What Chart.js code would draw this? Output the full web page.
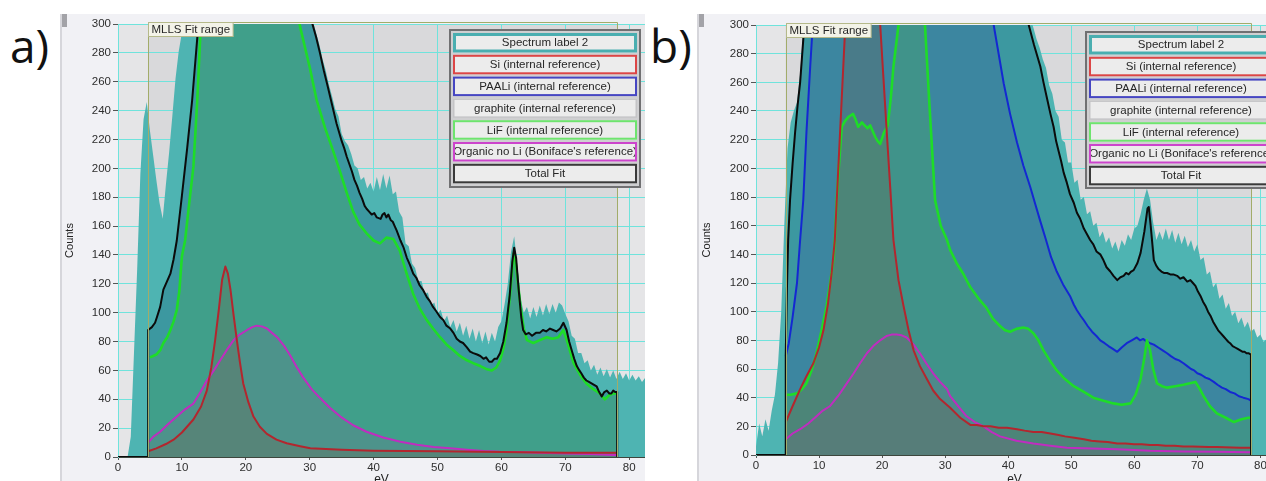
<!DOCTYPE html>
<html>
<head>
<meta charset="utf-8">
<script src="https://cdn.jsdelivr.net/npm/chart.js@4.4.1/dist/chart.umd.min.js"></script>
<style>
  html, body { margin: 0; padding: 0; background: #fff; width: 1266px; height: 481px; overflow: hidden; }
  .tag { position: absolute; font-family: "Open Sans", sans-serif; font-size: 46px; color: #111; line-height: 1; }
  .frame { position: absolute; top: 14px; height: 467px; overflow: hidden; background: #f1f1f5; }
  .edge { position: absolute; left: 0; top: 0; width: 2px; height: 100%; background: #d6d6db; }
  .thumb { position: absolute; left: 2px; top: 0; width: 5px; height: 13px; background: #a3a3a8; }
  canvas { position: absolute; left: 0; top: 0; }
</style>
</head>
<body>
<div class="tag" style="left:10px;top:22px">a)</div>
<div class="frame" style="left:60px;width:585px"><div class="edge"></div><div class="thumb"></div><canvas id="chartA" width="585" height="490"></canvas></div>
<div class="tag" style="left:650px;top:22px">b)</div>
<div class="frame" style="left:697px;width:569px"><div class="edge"></div><div class="thumb"></div><canvas id="chartB" width="576" height="490"></canvas></div>

<script>
// legend entries shared by both fits
const legendLabels = ['Spectrum label 2', 'Si (internal reference)', 'PAALi (internal reference)',
  'graphite (internal reference)', 'LiF (internal reference)', "Organic no Li (Boniface's reference)", 'Total Fit'];

const energyTicks = [0, 10, 20, 30, 40, 50, 60, 70, 80];
const countTicks = [0, 20, 40, 60, 80, 100, 120, 140, 160, 180, 200, 220, 240, 260, 280, 300];

// measured spectra, 0.5 eV per channel starting at 0 eV
const specStep = 0.5;
const aSpectrum = [
  0, 0, 0, 0, 14, 72, 130, 196, 234, 246,
  226, 209, 192, 176, 165, 189, 211, 236, 262, 281,
  294, 306, 322, 340, 362, 386, 410, 436, 460, 484,
  506, 526, 544, 560, 572, 582, 588, 592, 594, 592,
  588, 580, 570, 556, 540, 522, 502, 482, 462, 442,
  422, 404, 386, 370, 356, 344, 334, 324, 316, 310,
  306, 302, 294, 286, 276, 268, 258, 250, 241, 236,
  224, 219, 216, 210, 202, 200, 192, 194, 186, 190,
  184, 194, 185, 196, 186, 195, 182, 184, 170, 166,
  148, 146, 134, 131, 122, 122, 113, 114, 105, 107,
  99, 102, 94, 98, 90, 95, 87, 93, 84, 91,
  82, 89, 80, 88, 79, 87, 78, 86, 80, 90,
  94, 106, 120, 142, 153, 132, 110, 100, 104, 96,
  104, 97, 105, 98, 106, 99, 106, 100, 107, 105,
  99, 94, 84, 82, 72, 72, 65, 67, 60, 64,
  57, 62, 56, 61, 55, 60, 54, 59, 54, 58,
  53, 57, 53, 56, 52, 55
];
const bSpectrum = [
  6, 22, 13, 25, 17, 31, 42, 64, 100, 162,
  214, 232, 240, 246, 266, 298, 330, 368, 405, 440,
  476, 510, 545, 578, 610, 640, 668, 694, 718, 740,
  758, 774, 786, 796, 804, 810, 814, 815, 814, 810,
  804, 796, 786, 774, 760, 745, 728, 710, 692, 672,
  652, 632, 612, 592, 572, 553, 534, 520, 506, 493,
  480, 468, 456, 445, 434, 423, 413, 403, 394, 385,
  377, 369, 362, 355, 349, 343, 338, 333, 329, 325,
  322, 319, 316, 314, 312, 310, 308, 305, 298, 290,
  284, 276, 270, 258, 252, 240, 236, 220, 218, 204,
  204, 190, 192, 178, 180, 168, 170, 160, 162, 152,
  156, 148, 152, 144, 149, 142, 150, 146, 154, 150,
  158, 160, 168, 178, 186, 178, 162, 150, 156, 150,
  158, 150, 157, 148, 155, 147, 153, 145, 150, 142,
  147, 136, 138, 126, 128, 117, 120, 109, 112, 102,
  106, 97, 100, 92, 96, 89, 93, 86, 88, 82,
  84, 79, 81, 76, 78
];

// MLLS fit window [eV]
const aFitRange = [4.72, 78.1];
const bFitRange = [4.7, 78.5];

// fitted components, [eV, counts]
const aTotalFit = [[0,0],[4.7,0],[4.72,88],[5.3,90],[5.8,93],[6.1,97],[6.6,104],[7.1,116],[7.6,121],[8.2,127],[8.7,137],[9.2,150],[10,181],[10.8,213],[11.6,247],[12.4,290],[12.6,302],[14,360],[16,420],[18,460],[20,470],[22,455],[24,420],[26,380],[28,340],[29.5,314],[30.3,302],[31,291],[31.6,280],[32.2,268],[32.7,259],[33.5,244],[34.2,231],[35,219],[35.4,214],[35.8,208],[36.2,203],[36.6,198],[37,192],[37.4,188],[37.8,183],[38.2,179],[38.6,174],[38.9,172],[39.3,170],[39.7,168],[40.1,169],[40.5,166],[41.1,165],[41.4,168],[41.7,169],[42,166],[42.3,168],[42.7,164],[43,163],[43.3,160],[43.6,157],[44.2,150],[44.7,145],[45.2,138],[45.7,133],[46.2,127],[46.7,124],[47.2,119],[47.7,116],[48.3,111],[48.8,108],[49.3,104],[49.8,101],[50.4,97],[50.9,95],[51.4,91],[52,89],[52.5,86],[53,82],[53.5,80],[54,79],[54.6,76],[55.1,73],[55.6,72],[56.2,71],[56.7,70],[57.2,68],[57.6,69],[58.1,66],[58.5,66],[58.9,68],[59.3,68],[59.8,72],[60.3,80],[60.8,93],[61.3,112],[61.7,135],[62,145],[62.3,138],[62.7,116],[63.1,97],[63.4,88],[63.8,85],[64.3,86],[64.8,84],[65.4,86],[66,86],[66.5,88],[67,87],[67.6,89],[68.1,88],[68.6,87],[69.2,89],[69.7,93],[70.2,88],[70.6,80],[71,74],[71.4,68],[71.8,63],[72.2,60],[72.5,58],[72.9,55],[73.3,53],[73.7,52],[74.1,51],[74.5,50],[74.9,49],[75.3,45],[75.7,42],[76.1,45],[76.5,46],[76.9,44],[77.2,44],[77.5,46],[77.8,45],[78.1,45],[78.12,0]];
const aLiF = [[5.0,69],[5.5,70],[6,71],[6.6,74],[7.1,79],[7.7,83],[8.2,88],[8.7,94],[9.2,102],[9.6,115],[10,139],[10.5,150],[11.2,178],[11.8,201],[12.4,247],[12.9,294],[13.2,318],[15,400],[17,450],[19,460],[21,450],[23,420],[25,380],[27,335],[28.5,298],[30,270],[31.1,247],[32.4,228],[33.6,213],[34.8,197],[35.8,183],[36.8,170],[37.8,161],[38.9,155],[40,150],[41,148],[42,152],[43.1,151],[44.1,143],[45.1,128],[46.2,113],[47.2,103],[48.3,95],[49.3,89],[50.4,83],[51.4,78],[52.5,74],[53.5,70],[54.6,67],[55.6,65],[56.7,63],[57.6,61],[58.5,60],[59.2,62],[59.8,67],[60.3,75],[60.8,88],[61.4,115],[61.9,141],[62.2,136],[62.6,120],[63,104],[63.5,89],[64,81],[65,79],[66,81],[67.1,83],[68,82],[68.9,83],[69.7,88],[70.3,80],[71.3,65],[72.3,57],[73.3,51],[74.4,47],[75.4,44],[76.2,40],[76.9,43],[77.5,44],[78.1,44]];
const aSi = [[4.72,4],[6,6],[7.5,9],[8.7,12],[10,17],[11.8,26],[13,35],[13.9,46],[14.6,62],[15.2,81],[15.8,103],[16.3,123],[16.8,132],[17.2,127],[17.6,116],[18.1,98],[18.6,81],[19.1,65],[19.6,51],[20.4,38],[21.2,28],[22.2,21],[23.3,16],[24.8,12],[26.4,9.5],[28.5,7.5],[30.1,6],[35,5],[40,4.4],[50,4],[60,3.5],[70,3],[78.1,3]];
const aOrganic = [[4.72,10],[5.5,14],[6.6,17.5],[7.9,23],[9.2,28],[10.5,33],[11.8,37],[12.9,45],[13.9,53],[15,60],[16,67],[17,74],[18.1,81],[19.1,85],[20.2,88],[21,90],[21.7,91],[22.5,90.5],[23.3,89],[24.1,86],[24.9,83],[26,77],[27,70],[28,62],[29,55],[30.3,47],[31.6,41],[33.2,34],[34.8,28],[36.8,22],[38.9,17.5],[41.5,13.5],[44.2,10.6],[46.8,8.5],[49.4,7],[52,6],[54.6,5],[57.2,4.2],[59.8,3.7],[62.4,3.5],[65,3.2],[67.6,2.8],[70.2,2.5],[73.8,2],[77.5,1.4],[78.1,1.4]];

const bTotalFit = [[0,0],[4.7,0],[4.72,70],[4.9,115],[5.1,150],[5.4,178],[5.8,203],[6.2,225],[6.6,244],[7,260],[7.5,290],[7.7,302],[9,380],[12,520],[16,700],[20,760],[24,700],[28,600],[32,500],[36,420],[40,350],[42,318],[43.2,301],[44.1,286],[45.1,271],[45.6,260],[46.1,250],[46.7,238],[47.2,229],[47.6,219],[48,212],[48.4,205],[48.8,197],[49.3,190],[49.8,182],[50.4,176],[50.9,169],[51.4,165],[52,158],[52.5,154],[53,150],[53.5,147],[54,142],[54.6,140],[55.1,136],[55.6,131],[56.2,128],[56.7,125],[57.3,122],[57.8,124],[58.3,125],[58.7,127],[59.1,126],[59.5,128],[59.9,129],[60.5,134],[61,141],[61.6,156],[62.1,172],[62.3,173],[62.6,160],[63.1,136],[63.5,132],[63.8,130],[64.3,128],[64.7,127],[65.2,127],[65.7,126],[66.2,126],[66.8,125],[67.3,123],[67.8,124],[68.4,121],[68.9,122],[69.3,120],[69.7,118],[70.1,114],[70.5,111],[70.9,107],[71.3,104],[71.7,100],[72.1,97],[72.5,93],[72.9,90],[73.3,87],[73.7,85],[74.1,83],[74.5,81],[74.9,79],[75.2,78],[75.6,76],[76,75],[76.4,74],[76.8,73],[77.2,72],[77.5,72],[77.8,71],[78.1,71],[78.5,70],[78.52,0]];
const bPAALi = [[4.72,69],[5.2,78],[5.8,96],[6.5,120],[7,150],[7.5,178],[8,225],[8.6,271],[9,300],[9.5,330],[12,450],[16,560],[20,580],[24,540],[28,480],[32,400],[35,340],[37.7,300],[39.3,259],[40.3,238],[41.4,218],[42.4,202],[43.5,187],[44.3,175],[45.1,163],[46,150],[46.8,138],[47.7,128],[48.7,119],[49.8,111],[50.4,105],[50.9,101],[51.5,97],[52,94],[52.6,90],[53.3,86],[54,83],[54.6,80],[55.3,78],[55.9,76],[56.6,74],[57.3,72],[58,75],[58.8,78],[59.6,80],[60.4,82],[60.9,80],[61.4,81],[62,79],[62.5,78],[63.1,77],[63.8,75],[64.5,73],[65.2,71],[65.8,69],[66.5,67],[67.1,66],[67.8,64],[68.4,62],[69,60],[69.5,59],[70,57],[70.6,56],[71.3,54],[71.9,53],[72.6,51],[73.2,49],[73.9,47],[74.5,46],[75.2,44],[75.9,43],[76.6,41],[77.3,40],[78.1,39],[78.5,38]];
const bLiF = [[4.72,42],[5.5,42],[6.5,43],[7.3,46],[8,50],[8.8,59],[9.6,71],[10.4,87],[11.2,104],[11.8,121],[12.3,138],[12.5,150],[12.8,178],[13.2,205],[13.6,229],[14.1,233],[14.7,236],[15.4,238],[15.8,234],[16.2,229],[16.8,232],[17.2,230],[17.7,228],[18.1,230],[18.5,226],[18.9,222],[19.3,219],[19.7,217],[20.3,225],[20.9,230],[21.4,250],[21.8,271],[22.6,300],[23.5,360],[25,380],[26,340],[26.8,300],[27.5,245],[28.4,178],[29.3,160],[30.3,150],[30.8,143],[31.8,134],[32.8,127],[34,117],[35.5,108],[36.5,103],[37.6,95],[38.7,90],[39.5,87],[40.3,86],[41.3,88],[42.4,89],[43.2,88],[44,85],[44.8,80],[45.6,73],[46.6,66],[47.7,59],[49,53],[50.4,48],[52,44],[53.5,40],[55,38],[56.7,36],[58,35],[59.4,36],[60.2,42],[61,53],[61.6,68],[62,80],[62.3,76],[62.5,73],[63,60],[63.6,50],[64.4,48],[65.2,47],[66.5,48],[67.8,49],[68.8,50],[69.7,51],[70.4,46],[71,41],[72,34],[73.1,29],[74.5,26],[75.8,23],[77,25],[78.1,26],[78.5,26]];
const bSi = [[4.72,23],[5.8,34],[7,46],[8,55],[9.1,64],[10,75],[10.7,87],[11.4,105],[12,127],[12.5,150],[13,195],[13.6,249],[14.1,294],[14.3,310],[15.5,380],[17,420],[18.5,370],[19.7,300],[20.2,264],[20.8,221],[21.3,186],[21.8,150],[22.6,122],[23.4,104],[24.2,87],[25,73],[26,62],[27.1,53],[28.1,45],[29.2,39],[30.8,33],[32.4,26],[34,21],[35,21],[36.1,20],[37.2,20],[38.5,19],[39.8,19],[41.4,18],[42.6,17],[44,16],[45.3,16],[46.7,15],[48,14],[49,13],[50.5,12],[52,11],[53.2,10],[54.5,9.5],[55.8,9],[57.3,8],[58.6,8],[60,7.5],[61.2,7.5],[62.5,7],[63.7,7],[65,6.5],[66.4,6.5],[67.8,6],[69.2,6],[70.5,5.8],[71.8,5.6],[73.1,5.5],[74.3,5.4],[75.5,5.2],[76.8,5.1],[78.1,5],[78.5,5]];
const bOrganic = [[4.72,11],[5.8,15],[7,18],[8.3,22],[9.6,27],[10.6,31],[11.7,34],[13,41],[14.4,50],[15.5,57],[16.5,64],[17.6,71],[18.6,76],[19.7,80],[20.7,83],[21.5,84],[22.3,84],[23.1,83.5],[23.9,82],[25,77],[26,71],[27,64],[28.1,57],[29.2,51],[30.3,46],[30.8,41],[32.1,34],[33.4,27],[34.7,23],[36.1,20],[37.4,16],[38.7,13],[41.3,10],[44,8],[46.7,6.5],[49.3,5],[53.3,4.5],[57.3,4],[62.5,3],[67.8,2.5],[73,2.2],[78.1,2],[78.5,2]];

function pairs(list) {
  return list.map(p => ({x: p[0], y: p[1]}));
}
function channels(vals) {
  return vals.map((v, i) => ({x: i * specStep, y: v}));
}

// legend box borders, same order as legendLabels
const legendStyle = [
  {color: '#4aaeb0', width: 3}, {color: '#dc4646', width: 2}, {color: '#4646c2', width: 2},
  {color: '#c4c4c6', width: 1.5}, {color: '#6ee46e', width: 2}, {color: '#cc44cc', width: 2},
  {color: '#3a3a3a', width: 2}
];

function line(label, data, color, fillColor, width, order) {
  return {label: label, data: data, borderColor: color, backgroundColor: fillColor,
    borderWidth: width, fill: 'origin', order: order, clip: 0};
}

const plotFrame = {
  id: 'plotFrame',
  beforeDraw(chart, args, o) {
    const {ctx, chartArea: a, scales: {x}} = chart;
    const x0 = x.getPixelForValue(o.range[0]), x1 = x.getPixelForValue(o.range[1]);
    ctx.save();
    ctx.fillStyle = '#e5e5e7';
    ctx.fillRect(a.left, a.top, a.width, a.height);
    ctx.fillStyle = '#d9d9db';
    ctx.fillRect(x0, a.top, x1 - x0, a.height);
    ctx.restore();
  },
  afterDatasetsDraw(chart, args, o) {
    const {ctx, chartArea: a, scales: {x}} = chart;
    const x0 = Math.round(x.getPixelForValue(o.range[0])) + 0.5;
    const x1 = Math.round(x.getPixelForValue(o.range[1])) + 0.5;
    ctx.save();
    ctx.strokeStyle = '#a2ac6a';
    ctx.lineWidth = 1;
    ctx.beginPath();
    ctx.moveTo(x0, a.bottom); ctx.lineTo(x0, a.top - 1.5); ctx.lineTo(x1, a.top - 1.5); ctx.lineTo(x1, a.bottom);
    ctx.stroke();
    // fit window tag
    ctx.font = '11.5px "Liberation Sans"';
    const w = ctx.measureText('MLLS Fit range').width + 6;
    ctx.fillStyle = '#f3f3e8';
    ctx.fillRect(x0, a.top - 1, w, 14);
    ctx.strokeStyle = '#b5b98a';
    ctx.strokeRect(x0, a.top - 1.5, w, 14);
    ctx.fillStyle = '#262626';
    ctx.textBaseline = 'middle';
    ctx.fillText('MLLS Fit range', x0 + 3, a.top + 6);
    ctx.restore();
  },
  afterDraw(chart, args, o) {
    const ctx = chart.ctx, L = o.legend;
    ctx.save();
    ctx.fillStyle = '#cfcfd1';
    ctx.fillRect(L.x, L.y, L.w, L.h);
    ctx.strokeStyle = '#707072';
    ctx.lineWidth = 2;
    ctx.strokeRect(L.x + 1, L.y + 1, L.w - 2, L.h - 2);
    legendLabels.forEach((text, i) => {
      const bx = L.x + 4, by = L.y + 4 + i * L.pitch, bw = L.w - 8, bh = L.rowH;
      const st = legendStyle[i];
      ctx.fillStyle = '#ececec';
      ctx.fillRect(bx, by, bw, bh);
      ctx.save();
      ctx.beginPath();
      ctx.rect(bx + st.width, by, bw - 2 * st.width, bh);
      ctx.clip();
      ctx.fillStyle = '#262626';
      ctx.font = '11.5px "Liberation Sans"';
      ctx.textAlign = 'center';
      ctx.textBaseline = 'middle';
      ctx.fillText(text, bx + bw / 2, by + bh / 2 + 0.5);
      ctx.restore();
      ctx.strokeStyle = st.color;
      ctx.lineWidth = st.width;
      ctx.strokeRect(bx + st.width / 2, by + st.width / 2, bw - st.width, bh - st.width);
    });
    ctx.restore();
  }
};

function buildChart(id, cfg) {
  const tickFont = {family: 'Liberation Sans', size: 11.5};
  return new Chart(document.getElementById(id), {
    type: 'line',
    data: {datasets: cfg.datasets},
    options: {
      responsive: false,
      animation: false,
      events: [],
      layout: {padding: {top: cfg.top, left: 0, right: 0, bottom: 0}},
      elements: {point: {radius: 0}, line: {tension: 0, borderJoinStyle: 'round'}},
      plugins: {
        legend: {display: false},
        tooltip: {enabled: false},
        filler: {drawTime: 'beforeDatasetsDraw'},
        plotFrame: {range: cfg.range, legend: cfg.legend}
      },
      scales: {
        x: {
          type: 'linear', min: 0, max: cfg.xMax,
          afterBuildTicks: s => { s.ticks = energyTicks.map(v => ({value: v})); },
          afterFit: s => { s.height = cfg.xAxisH; },
          ticks: {color: '#2e2e2e', font: tickFont, padding: 1, maxRotation: 0, autoSkip: false},
          grid: {color: '#6fe3dc', tickColor: '#555', tickLength: 3},
          border: {color: '#3d463d', width: 1},
          title: {display: true, text: 'eV', color: '#222', font: {family: 'Liberation Sans', size: 12}, padding: {top: 0, bottom: 17}}
        },
        y: {
          min: 0, max: 300,
          afterBuildTicks: s => { s.ticks = countTicks.map(v => ({value: v})); },
          afterFit: s => { s.width = cfg.yAxisW; },
          ticks: {color: '#2e2e2e', font: tickFont, padding: 2},
          grid: {color: '#6fe3dc', tickColor: '#555', tickLength: 5},
          border: {color: '#6fe3dc', width: 1},
          title: {display: true, text: 'Counts', color: '#222', font: {family: 'Liberation Sans', size: 11}, padding: {top: 3, bottom: 0}}
        }
      }
    },
    plugins: [plotFrame]
  });
}

buildChart('chartA', {
  top: 10, xAxisH: 47, yAxisW: 58, xMax: 82.47, range: aFitRange,
  legend: {x: 389, y: 15, w: 192, h: 159, pitch: 21.8, rowH: 19.5},
  datasets: [
    line(legendLabels[6], pairs(aTotalFit), '#0b0b0b', 'rgba(6,68,106,0.25)', 2, 0),
    line(legendLabels[1], pairs(aSi), '#b3262e', 'rgba(149,100,55,0.25)', 2, 1),
    line(legendLabels[5], pairs(aOrganic), '#c02cc0', 'rgba(170,110,162,0.2)', 2, 2),
    line(legendLabels[4], pairs(aLiF), '#1edc28', 'rgba(96,216,80,0.3)', 2.6, 3),
    line(legendLabels[0], channels(aSpectrum), '#4eb4b2', '#4eb4b2', 0, 5)
  ]
});

buildChart('chartB', {
  top: 11, xAxisH: 49, yAxisW: 59, xMax: 82.0, range: bFitRange,
  legend: {x: 388, y: 17, w: 192, h: 158, pitch: 21.8, rowH: 19.5},
  datasets: [
    line(legendLabels[6], pairs(bTotalFit), '#0b0b0b', 'rgba(6,68,106,0.25)', 2, 0),
    line(legendLabels[1], pairs(bSi), '#b3262e', 'rgba(149,100,55,0.25)', 2, 1),
    line(legendLabels[5], pairs(bOrganic), '#c02cc0', 'rgba(170,110,162,0.2)', 2, 2),
    line(legendLabels[4], pairs(bLiF), '#1edc28', 'rgba(96,216,80,0.3)', 2.6, 3),
    line(legendLabels[2], pairs(bPAALi), '#1428d2', 'rgba(78,89,178,0.25)', 2, 4),
    line(legendLabels[0], channels(bSpectrum), '#4eb4b2', '#4eb4b2', 0, 5)
  ]
});
</script>
</body>
</html>
